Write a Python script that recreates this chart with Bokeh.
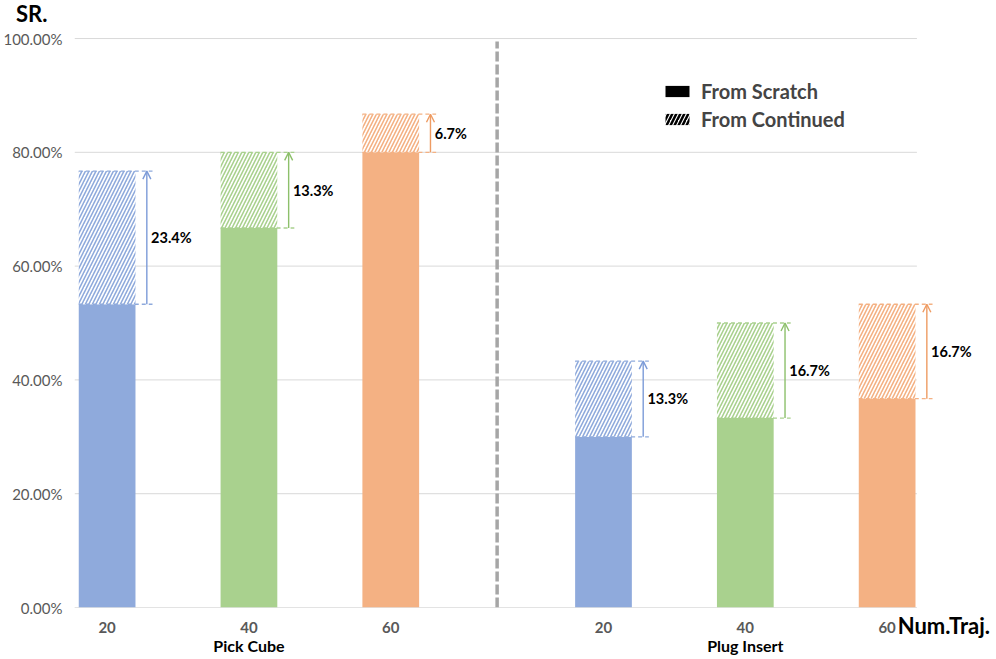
from bokeh.plotting import figure
from bokeh.models import (Range1d, LinearAxis, FixedTicker, PrintfTickFormatter,
                          Arrow, OpenHead, Legend, LegendItem, ColumnDataSource)
from bokeh.core.properties import value
from bokeh.embed import file_html
from bokeh.resources import INLINE

# ---------------- data ----------------
groups = ["Pick Cube", "Plug Insert"]
num_traj = ["20", "40", "60"]
scratch = [53.3, 66.7, 80.0, 30.0, 33.3, 36.7]
continued = [76.7, 80.0, 86.7, 43.3, 50.0, 53.3]
gain_labels = ["23.4%", "13.3%", "6.7%", "13.3%", "16.7%", "16.7%"]
y_ticks = [0, 20, 40, 60, 80, 100]

# ---------------- styles ----------------
FONT = "Lato"
bar_colors = ["#8FAADC", "#A9D18E", "#F4B183"]
arrow_colors = ["#7C9BD8", "#8DC06B", "#EE9B62"]
BAR_W = 0.4
GROUP_STEP = 3.5
X_START, X_END, GRID_END = -0.23, 6.25, 5.71
Y_END = 104.4

positions, fills, acols, tick_labels = [], [], [], {}
for g in range(len(groups)):
    for j in range(len(num_traj)):
        xp = g * GROUP_STEP + j
        positions.append(xp)
        fills.append(bar_colors[j])
        acols.append(arrow_colors[j])
        tick_labels[xp] = num_traj[j]
group_centers = [g * GROUP_STEP + (len(num_traj) - 1) / 2 for g in range(len(groups))]
sep_x = (positions[2] + positions[3]) / 2
xlabel_pos = positions[-1] + 0.4

p = figure(width=994, height=657, output_backend="svg", toolbar_location=None,
           x_range=Range1d(X_START, X_END), y_range=Range1d(0, Y_END),
           min_border_left=74, min_border_right=1, min_border_top=13, min_border_bottom=10)
p.outline_line_color = None
p.xgrid.visible = False
p.ygrid.visible = False

# horizontal grid lines (ending at the plot area's right edge)
p.segment(x0=[X_START] * len(y_ticks), y0=y_ticks, x1=[GRID_END] * len(y_ticks), y1=y_ticks,
          line_color="#D9D9D9", line_width=1)

# y axis with "SR." at its top end
ya = p.yaxis[0]
ya.ticker = FixedTicker(ticks=y_ticks)
ya.formatter = PrintfTickFormatter(format="%.2f%%")
ya.axis_line_color = None
ya.major_tick_line_color = None
ya.major_tick_out = 0
ya.minor_tick_line_color = None
ya.major_label_text_color = "#595959"
ya.major_label_text_font = FONT
ya.major_label_text_font_size = "15px"
ya.major_label_standoff = 12
ya.axis_label = "SR."
ya.axis_label_orientation = "horizontal"
ya.axis_label_align = "end"
ya.axis_label_standoff = -47
ya.axis_label_text_font = FONT
ya.axis_label_text_font_style = "bold"
ya.axis_label_text_font_size = "22px"
ya.axis_label_text_color = "black"

# x axis (num traj)
xa = p.xaxis[0]
xa.ticker = FixedTicker(ticks=positions)
xa.major_label_overrides = tick_labels
xa.axis_line_color = None
xa.major_tick_line_color = None
xa.major_tick_out = 0
xa.minor_tick_line_color = None
xa.major_label_text_color = "#595959"
xa.major_label_text_font = FONT
xa.major_label_text_font_style = "bold"
xa.major_label_text_font_size = "15px"
xa.major_label_standoff = 14

# "Num.Traj." label, on the same row as the tick labels
na = LinearAxis(ticker=FixedTicker(ticks=[xlabel_pos]),
                major_label_overrides={xlabel_pos: "Num.Traj."})
na.axis_line_color = None
na.major_tick_line_color = None
na.major_tick_out = 0
na.minor_tick_line_color = None
na.major_label_text_color = "black"
na.major_label_text_font = FONT
na.major_label_text_font_style = "bold"
na.major_label_text_font_size = "22px"
na.major_label_standoff = -24
p.add_layout(na, "below")

# group axis
ga = LinearAxis(ticker=FixedTicker(ticks=group_centers),
                major_label_overrides={c: n for c, n in zip(group_centers, groups)})
ga.axis_line_color = None
ga.major_tick_line_color = None
ga.major_tick_out = 0
ga.minor_tick_line_color = None
ga.major_label_text_color = "black"
ga.major_label_text_font = FONT
ga.major_label_text_font_style = "bold"
ga.major_label_text_font_size = "16px"
ga.major_label_standoff = -6
p.add_layout(ga, "below")

src = ColumnDataSource(dict(x=positions, s=scratch, c=continued, fill=fills, acol=acols,
                            x0=[xp - BAR_W / 2 for xp in positions],
                            x1=[xp + BAR_W / 2 + 0.12 for xp in positions],
                            xl=[xp + BAR_W / 2 + 0.11 for xp in positions],
                            ym=[(a + b) / 2 for a, b in zip(scratch, continued)],
                            lab=gain_labels))

# baseline
p.segment(x0=[X_START], y0=[0], x1=[GRID_END], y1=[0], line_color="#D9D9D9", line_width=1)

p.vbar(x="x", top="s", bottom=0, width=BAR_W, fill_color="fill", line_color=None, source=src)
p.vbar(x="x", top="c", bottom="s", width=BAR_W, fill_color="white", line_color=None,
       hatch_pattern="/", hatch_color="fill", hatch_scale=7, hatch_weight=1.6, source=src)

p.segment(x0="x0", y0="s", x1="x1", y1="s", line_color="fill", line_dash="4 3",
          line_width=1.3, source=src)
p.segment(x0="x0", y0="c", x1="x1", y1="c", line_color="fill", line_dash="4 3",
          line_width=1.3, source=src)

for xp, s, c, col in zip(positions, scratch, continued, acols):
    xa_ = xp + BAR_W / 2 + 0.08
    p.add_layout(Arrow(x_start=xa_, y_start=s, x_end=xa_, y_end=c, line_color=col, line_width=1.4,
                       end=OpenHead(size=8, line_color=col, line_width=1.4), start=None))

p.text(x="xl", y="ym", text="lab", source=src, text_font=value(FONT), text_font_style="bold",
       text_font_size="14.5px", text_color="black", text_baseline="middle", text_align="left")

# dashed separator between the two tasks
p.segment(x0=[sep_x], y0=[0], x1=[sep_x], y1=[y_ticks[-1] - 0.5], line_color="#A6A6A6",
          line_width=3.5, line_dash="10 3")

# legend (zero-height proxy bars)
r1 = p.vbar(x=[positions[0]], top=[0], bottom=[0], width=0.1, fill_color="black", line_color=None)
r2 = p.vbar(x=[positions[0]], top=[0], bottom=[0], width=0.1, fill_color="white", line_color=None,
            hatch_pattern="/", hatch_color="black", hatch_scale=8, hatch_weight=2.5)
leg = Legend(items=[LegendItem(label="From Scratch", renderers=[r1]),
                    LegendItem(label="From Continued", renderers=[r2])],
             location=(588, 476), background_fill_alpha=0, border_line_color=None,
             glyph_width=30, glyph_height=14, label_text_font=FONT, label_text_font_style="bold",
             label_text_font_size="20px", spacing=4, padding=0, margin=0, label_standoff=9)
p.add_layout(leg, "center")

open("out.html", "w").write(file_html(p, INLINE))
